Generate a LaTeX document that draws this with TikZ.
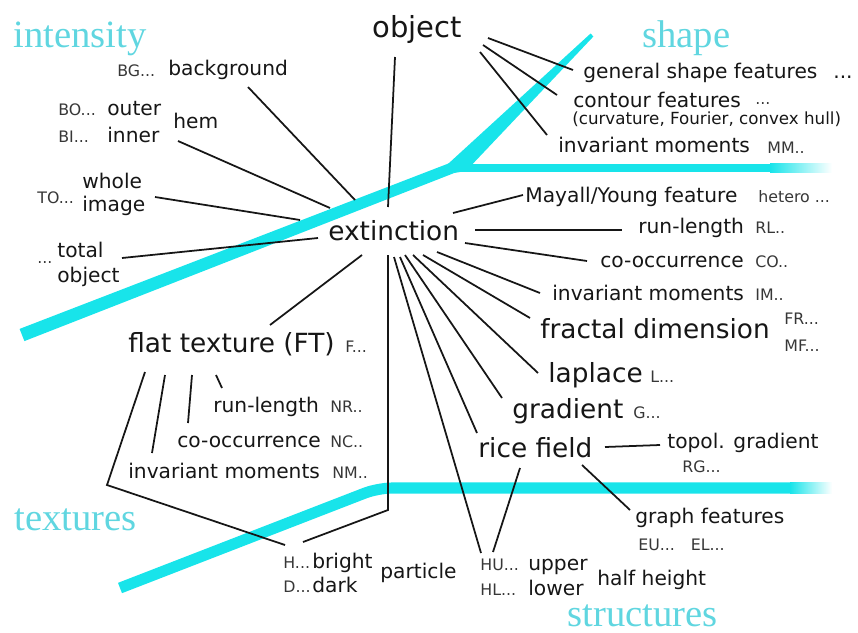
\documentclass[tikz,border=0pt]{standalone}
\usepackage{fontspec}
\setmainfont{DejaVu Sans}
\newfontfamily\catfont{Liberation Serif}
\usepackage{tikz}
\usetikzlibrary{calc}
\definecolor{mydark}{RGB}{22,22,22}
\definecolor{mygray}{RGB}{55,55,55}
\definecolor{mycyan}{RGB}{24,228,234}
\definecolor{cyantxt}{RGB}{96,214,224}
\tikzset{
  bigtxt/.style={inner sep=0pt, anchor=base west, text=mydark,
    font=\fontsize{15}{18}\selectfont},
  midtxt/.style={inner sep=0pt, anchor=base west, text=mydark,
    font=\fontsize{11.5}{14}\selectfont},
  smalltxt/.style={inner sep=0pt, anchor=base west, text=mydark,
    font=\fontsize{9.5}{12}\selectfont},
  codetxt/.style={inner sep=0pt, anchor=base west, text=mygray,
    font=\fontsize{9}{10}\selectfont},
  cattxt/.style={inner sep=0pt, anchor=base west, text=cyantxt,
    font=\catfont\fontsize{22}{26}\selectfont},
  link/.style={line width=1pt, color=mydark}
}

\begin{document}
\begin{tikzpicture}[x=0.02cm, y=-0.02cm,
  band/.style={fill=mycyan},
  bandline/.style={draw=mycyan, line width=6.3pt, rounded corners=8pt}]

  \useasboundingbox (0,0) rectangle (858,632);

  % Cyan axes
  \fill[band] (19.6,328.9) -- (450,162.9) -- (454,173.1) -- (24.4,341.1) -- cycle;
  \fill[band] (447.5,164.4) -- (590.6,33.5) -- (593.4,36.5) -- (466,171) -- (454,173) -- cycle;
  \fill[band] (452,163.5) rectangle (770,172);
  \shade[left color=mycyan, right color=white] (770,163.5) rectangle (832,172);
  \draw[bandline] (120,588) -- (378,488) -- (790,488);
  \shade[left color=mycyan, right color=white] (790,482.5) rectangle (832,493.5);

  % Categories
  \node[cattxt] (intensity) at (13,47) {intensity};
  \node[cattxt] (shape) at (642,47) {shape};
  \node[cattxt] (textures) at (14,530) {textures};
  \node[cattxt] (structures) at (567,626) {structures};

  % Hub nodes
  \node[bigtxt, font=\fontsize{16.5}{19}\selectfont] (obj) at (372,37) {object};
  \node[bigtxt] (ext) at (328,240) {extinction};
  \node[bigtxt] (ft) at (128,352) {flat texture (FT)};
  \node[codetxt] (ftc) at (345,352) {F...};

  % Intensity
  \node[codetxt] (bgc) at (117,76) {BG...};
  \node[midtxt] (bg) at (168,75) {background};
  \node[codetxt] (boc) at (58,115) {BO...};
  \node[midtxt] (outer) at (107,115) {outer};
  \node[codetxt] (bic) at (58,142) {BI...};
  \node[midtxt] (inner) at (107,142) {inner};
  \node[midtxt] (hem) at (173,128) {hem};
  \node[codetxt] (toc) at (37,203) {TO...};
  \node[midtxt] (whole) at (82,188) {whole};
  \node[midtxt] (image) at (82,211) {image};
  \node[codetxt] (tobc) at (37,263) {...};
  \node[midtxt] (total) at (57,257) {total};
  \node[midtxt] (tobj) at (57,282) {object};

  % Shape
  \node[midtxt] (gsf) at (583,78) {general shape features};
  \node[midtxt] (gsfc) at (833,78) {...};
  \node[midtxt] (cf) at (573,107) {contour features};
  \node[codetxt] (cfc) at (755,104) {...};
  \node[smalltxt] (cfd) at (572,124) {(curvature, Fourier, convex hull)};
  \node[midtxt] (mm) at (558,152) {invariant moments};
  \node[codetxt] (mmc) at (767,153) {MM..};

  % Extinction features
  \node[midtxt] (may) at (525,202) {Mayall/Young feature};
  \node[codetxt] (mayc) at (758,202) {hetero ...};
  \node[midtxt] (rl) at (638,233) {run-length};
  \node[codetxt] (rlc) at (755,233) {RL..};
  \node[midtxt] (co) at (600,267) {co-occurrence};
  \node[codetxt] (coc) at (755,267) {CO..};
  \node[midtxt] (im) at (552,300) {invariant moments};
  \node[codetxt] (imc) at (755,300) {IM..};
  \node[bigtxt] (fd) at (540,338) {fractal dimension};
  \node[codetxt] (frc) at (784,324) {FR...};
  \node[codetxt] (mfc) at (784,351) {MF...};
  \node[bigtxt] (lap) at (548,382) {laplace};
  \node[codetxt] (lapc) at (650,382) {L...};
  \node[bigtxt] (grad) at (512,418) {gradient};
  \node[codetxt] (gradc) at (633,418) {G...};
  \node[bigtxt] (rice) at (478,457) {rice field};

  % Structures
  \node[midtxt] (topo) at (667,448) {topol. gradient};
  \node[codetxt] (rgc) at (682,472) {RG...};
  \node[midtxt] (graph) at (635,523) {graph features};
  \node[codetxt] (euc) at (638,550) {EU...\quad EL...};
  \node[midtxt] (half) at (597,585) {half height};
  \node[codetxt] (huc) at (480,570) {HU...};
  \node[midtxt] (upper) at (528,570) {upper};
  \node[codetxt] (hlc) at (480,595) {HL...};
  \node[midtxt] (lower) at (528,595) {lower};
  \node[midtxt] (part) at (380,578) {particle};
  \node[codetxt] (hc) at (283,568) {H...};
  \node[midtxt] (bright) at (312,568) {bright};
  \node[codetxt] (dc) at (283,592) {D...};
  \node[midtxt] (dark) at (312,592) {dark};

  % Textures
  \node[midtxt] (nr) at (213,412) {run-length};
  \node[codetxt] (nrc) at (330,412) {NR..};
  \node[midtxt] (nc) at (177,447) {co-occurrence};
  \node[codetxt] (ncc) at (330,447) {NC..};
  \node[midtxt] (nm) at (128,478) {invariant moments};
  \node[codetxt] (nmc) at (332,478) {NM..};

  % Object links
  \draw[link] ($(obj.base west)+(23,20)$) -- ($(ext.base west)+(60,-33)$);
  \draw[link] ($(obj.base west)+(116,1)$) -- ($(gsf.base west)+(-10,-8)$);
  \draw[link] ($(obj.base west)+(111,8)$) -- ($(cf.base west)+(-16,-12)$);
  \draw[link] ($(obj.base west)+(108,15)$) -- ($(mm.base west)+(-11,-17)$);

  % Intensity links
  \draw[link] ($(bg.base west)+(80,12)$) -- ($(ext.base west)+(27,-40)$);
  \draw[link] ($(hem.base west)+(5,13)$) -- ($(ext.base west)+(2,-32)$);
  \draw[link] ($(image.base west)+(73,-14)$) -- ($(ext.base west)+(-28,-20)$);
  \draw[link] ($(total.base west)+(65,1)$) -- ($(ext.base west)+(-10,-2)$);
  \draw[link] ($(ft.base west)+(142,-27)$) -- ($(ext.base west)+(34,15)$);

  % Extinction links
  \draw[link] ($(ext.base west)+(125,-27)$) -- ($(may.base west)+(-2,-7)$);
  \draw[link] ($(ext.base west)+(147,-10)$) -- ($(rl.base west)+(-16,-3)$);
  \draw[link] ($(ext.base west)+(137,3)$) -- ($(co.base west)+(-13,-6)$);
  \draw[link] ($(ext.base west)+(109,12)$) -- ($(im.base west)+(-12,-7)$);
  \draw[link] ($(ext.base west)+(95,15)$) -- ($(fd.base west)+(-10,-20)$);
  \draw[link] ($(ext.base west)+(85,15)$) -- ($(lap.base west)+(-10,-9)$);
  \draw[link] ($(ext.base west)+(77,15)$) -- ($(grad.base west)+(-10,-20)$);
  \draw[link] ($(ext.base west)+(72,17)$) -- ($(rice.base west)+(-1,-24)$);
  \draw[link] ($(ext.base west)+(66,17)$) -- ($(huc.base west)+(1,-17)$);
  \draw[link] ($(ext.base west)+(60,15)$) -- ($(ext.base west)+(60,270)$) -- ($(hc.base west)+(20,-26)$);

  % Texture links
  \draw[link] ($(ft.base west)+(17,20)$) -- ($(ft.base west)+(-21,133)$) -- ($(hc.base west)+(2,-23)$);
  \draw[link] ($(ft.base west)+(37,23)$) -- ($(nm.base west)+(24,-25)$);
  \draw[link] ($(ft.base west)+(64,23)$) -- ($(nc.base west)+(11,-24)$);
  \draw[link] ($(ft.base west)+(88,23)$) -- ($(nr.base west)+(9,-24)$);

  % Rice field links
  \draw[link] ($(rice.base west)+(42,11)$) -- ($(huc.base west)+(13,-18)$);
  \draw[link] ($(rice.base west)+(127,-10)$) -- ($(topo.base west)+(-7,-3)$);
  \draw[link] ($(rice.base west)+(104,8)$) -- ($(graph.base west)+(-5,-13)$);
\end{tikzpicture}
\end{document}
